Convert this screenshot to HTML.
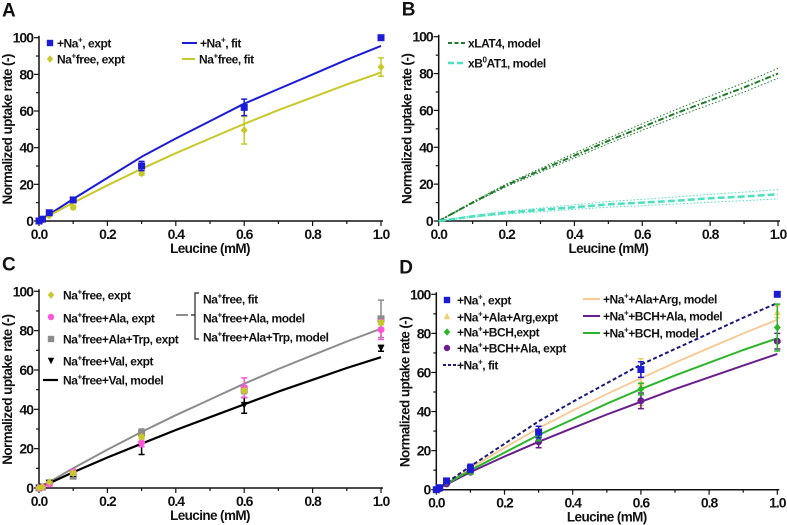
<!DOCTYPE html>
<html><head><meta charset="utf-8">
<style>
html,body{margin:0;padding:0;background:#fff;}
svg{display:block;}
text{font-family:"Liberation Sans",sans-serif;font-weight:bold;fill:#111;}
.tick{font-size:14px;letter-spacing:-1px;}
.leg{font-size:12px;letter-spacing:-0.45px;}
.title{font-size:13.5px;letter-spacing:-0.6px;}
.plet{font-size:19px;}
</style></head>
<body>
<svg id="fig" width="787" height="525" viewBox="0 0 787 525" xmlns="http://www.w3.org/2000/svg"></svg>
<script>
// ---- data ----
const fitX = [0,0.1,0.2,0.3,0.4,0.5,0.6,0.7,0.8,0.9,1.0];
const xTicks = ["0.0","0.2","0.4","0.6","0.8","1.0"];
const yTicks = ["0","20","40","60","80","100"];
// Panel A
const aBlueFit = [0,12,23.5,35,45,54.5,64,72,80,88,95.5];
const aYellowFit = [0,10,19.5,28.5,37,45,53,60.5,67.5,74.5,81];
const exptX = [0,0.01,0.03,0.1,0.3,0.6,1.0];
const aBlueY = [0,1,4.5,11.5,30,62,100];
const aBlueErr = [0,0,0,1,2.5,4.5,0];
const aYellowY = [0,0.5,3,7.5,26,49.5,84];
const aYellowErr = [0,0,0,1,1,7.5,5];
// Panel B
const bLat4 = [0,10,19.5,27.5,35.5,43.5,51,58.5,65.5,72.5,80];
const bLat4Hi = [0,10.4,20.2,28.5,36.8,45,52.8,60.5,67.8,75,82.8];
const bLat4Lo = [0,9.6,18.8,26.5,34.2,42,49.2,56.5,63.2,70,77.5];
const bB0at1 = [0,2.5,4.5,6,7.5,9,10,11,12.3,13.3,14.5];
const bB0at1Hi = [0,3,5.3,7,8.8,10.5,11.8,13,14.5,15.7,17];
const bB0at1Lo = [0,2,3.8,5,6.3,7.5,8.3,9.2,10.2,11,12];
// Panel C
const cGrayFit = [0,10,19.5,28.5,37,45,53,60.5,67.5,74.5,81];
const cBlackFit = [0,8,15.5,22.5,29.5,36,42.5,49,55,61,66.5];
const cYellowY = [0,0.5,3,7.5,26,49.5,84];
const cYellowErr = [0,0,0,1,1,1,1];
const cPinkY = [0,0.5,2,8,23,51,80.5];
const cPinkErr = [0,0,0,1.5,2,5,5];
const cGrayY = [0,0.5,2.5,6,28,50,86];
const cGrayErr = [0,0,0,1,2,2,9.5];
const cBlackY = [0,0.5,2.5,7,22,42,71];
const cBlackErr = [0,0,0,1,5,4,1.5];
// Panel D
const dBlueFit = [0,12,23.5,35,45,54.5,64,72,80,88,95.5];
const dOrangeFit = [0,11,21.5,31.5,40.5,49,57,65,72.5,80,87];
const dGreenFit = [0,10,19,28,36,44,51.5,58.5,65,71.5,77.5];
const dPurpleFit = [0,9,17,24.5,31.5,38.5,45,51.5,57.5,63.5,69.5];
const dBlueY = [0,1,4.5,11,29.5,61.5,100];
const dBlueErr = [0,0.5,0.5,2,3,4,0];
const dOrangeY = [0,1,4,11,29,55,91];
const dOrangeErr = [0,0,0,1,2,12,3];
const dGreenY = [0,1,4,10,27,51.5,83];
const dGreenErr = [0,0,0,2,2,3,12];
const dPurpleY = [0,0.5,3,9,24.5,45.5,76];
const dPurpleErr = [0,0,0,1,3,4,4];

const NS="http://www.w3.org/2000/svg";
const svg=document.getElementById('fig');
function mk(tag,attrs,parent){const e=document.createElementNS(NS,tag);for(const k in attrs)e.setAttribute(k,attrs[k]);(parent||svg).appendChild(e);return e;}
function txt(s,x,y,cls,anchor,parent){const t=mk('text',{x:x,y:y,class:cls,'text-anchor':anchor||'start'},parent);t.innerHTML=s;return t;}

function panel(name,letter,x0,x1,y0,y100){
  const g=mk('g',{});
  
  
  const sx=v=>x0+(x1-x0)*v, sy=v=>y0-(y0-y100)*v/100;
  const ax=mk('g',{},g);
  
  
  mk('line',{x1:x0,y1:y100-2,x2:x0,y2:y0+1,stroke:'#111','stroke-width':1.5},ax);
  mk('line',{x1:x0,y1:y0,x2:x1+2,y2:y0,stroke:'#111','stroke-width':1.5},ax);
  for(let i=0;i<=10;i++){const X=sx(i/10);mk('line',{x1:X,y1:y0,x2:X,y2:y0+(i%2?3:5),stroke:'#111','stroke-width':1.2},ax);}
  for(let i=0;i<=10;i++){const Y=sy(i*10);mk('line',{x1:x0,y1:Y,x2:x0-(i%2?3:5),y2:Y,stroke:'#111','stroke-width':1.2},ax);}
  xTicks.forEach((s,i)=>{const t=txt(s,sx(i*0.2),y0+18,'tick','middle',ax);});
  yTicks.forEach((s,i)=>{const t=txt(s,x0-6,sy(i*20)+5,'tick','end',ax);});
  const xt=txt('Leucine (mM)',(x0+x1)/2,y0+32,'title','middle',ax);
  
  
  const yc=(y0+y100)/2;
  const yt=txt('Normalized uptake rate (-)',0,0,'title','middle',ax);
  yt.setAttribute('transform','translate('+(x0-27)+','+yc+') rotate(-90)');
  
  
  const pl=txt(letter,x0-37,y100-21,'plet','start',g);
  
  
  return {g,sx,sy};
}
function line(p,xs,ys,color,w,dash,name){
  const d=xs.map((x,i)=>(i?'L':'M')+p.sx(x).toFixed(1)+','+p.sy(ys[i]).toFixed(1)).join('');
  const e=mk('path',{d:d,fill:'none',stroke:color,'stroke-width':w,'stroke-linejoin':'round'},p.g);
  if(dash)e.setAttribute('stroke-dasharray',dash);
  
  
}
function marker(parent,shape,X,Y,color,s){
  s=s||3.5;
  if(shape==='sq')return mk('rect',{x:X-s,y:Y-s,width:2*s,height:2*s,fill:color},parent);
  if(shape==='dia')return mk('path',{d:`M${X},${Y-s-0.5}L${X+s},${Y}L${X},${Y+s+0.5}L${X-s},${Y}Z`,fill:color},parent);
  if(shape==='circ')return mk('circle',{cx:X,cy:Y,r:s,fill:color},parent);
  if(shape==='tri')return mk('path',{d:`M${X-s},${Y-s}L${X+s},${Y-s}L${X},${Y+s}Z`,fill:color},parent);
  if(shape==='utri')return mk('path',{d:`M${X-s},${Y+s}L${X+s},${Y+s}L${X},${Y-s}Z`,fill:color},parent);
}
function points(p,xs,ys,errs,color,shape,name){
  const g=mk('g',{},p.g);
  
  
  xs.forEach((x,i)=>{
    const X=p.sx(x),Y=p.sy(ys[i]);
    if(errs[i]>0){const a=p.sy(ys[i]+errs[i]),b=p.sy(ys[i]-errs[i]);
      mk('path',{d:`M${X},${a}L${X},${b}M${X-3},${a}L${X+3},${a}M${X-3},${b}L${X+3},${b}`,stroke:color,'stroke-width':1.5,fill:'none'},g);}
    const m=marker(g,shape,X,Y,color);
    
    
  });
}
function legSym(parent,shape,X,Y,color){const m=marker(parent,shape,X,Y,color,3.2);}
function legLine(parent,x1,x2,Y,color,w,dash){const l=mk('line',{x1:x1,y1:Y,x2:x2,y2:Y,stroke:color,'stroke-width':w},parent);if(dash)l.setAttribute('stroke-dasharray',dash);}
function legText(parent,s,X,Y){const t=txt(s,X,Y+4.5,'leg','start',parent);}
function legend(p){const g=mk('g',{},p.g);return g;}

const BLUE='#1c1cd6', YEL='#c8c82a', GRN_D='#1f7a2a', TEAL='#4de0c0', PINK='#ff55dd', GRAY='#8c8c8c', ORG='#f8c890', GRN='#2bb52b', PUR='#6a1e8c', NAVY='#1a1a7a';

// Panel A
let p=panel('panel-a','A',39,381,221,37.7);
line(p,fitX,aBlueFit,BLUE,2,null,'na-fit-line');
line(p,fitX,aYellowFit,YEL,2,null,'na-free-fit-line');
points(p,exptX,aYellowY,aYellowErr,YEL,'dia','na-free-expt-points');
points(p,exptX,aBlueY,aBlueErr,BLUE,'sq','na-expt-points');
let L=legend(p);
legSym(L,'sq',50,43,BLUE);legText(L,'+Na<tspan font-size="8" dy="-5">+</tspan><tspan dy="5">, expt</tspan>',57,43);
legSym(L,'dia',50,59,YEL);legText(L,'Na<tspan font-size="8" dy="-5">+</tspan><tspan dy="5">free, expt</tspan>',57,59);
legLine(L,182,197,43,BLUE,2);legText(L,'+Na<tspan font-size="8" dy="-5">+</tspan><tspan dy="5">, fit</tspan>',200,43);
legLine(L,182,195,59,YEL,2);legText(L,'Na<tspan font-size="8" dy="-5">+</tspan><tspan dy="5">free, fit</tspan>',199,59);

// Panel B
p=panel('panel-b','B',438.7,778,221,36.7);
line(p,fitX,bLat4Hi,GRN_D,1,'1.5,2','xlat4-upper-bound');
line(p,fitX,bLat4Lo,GRN_D,1,'1.5,2','xlat4-lower-bound');
line(p,fitX,bLat4,GRN_D,2,'6,2,1.5,2','xlat4-model-line');
line(p,fitX,bB0at1Hi,TEAL,1,'1.5,2','xb0at1-upper-bound');
line(p,fitX,bB0at1Lo,TEAL,1,'1.5,2','xb0at1-lower-bound');
line(p,fitX,bB0at1,TEAL,2.5,'7,3','xb0at1-model-line');
L=legend(p);
legLine(L,448,465,43,GRN_D,2,'4,2.5');legText(L,'xLAT4, model',468,43);
legLine(L,448,465,63,TEAL,2.5,'6,3');legText(L,'xB<tspan font-size="8" dy="-5">0</tspan><tspan dy="5">AT1, model</tspan>',468,63);

// Panel C
p=panel('panel-c','C',39,381,488,291.3);
line(p,fitX,cGrayFit,GRAY,2,null,'na-free-fit-line');
line(p,fitX,cBlackFit,'#000',2.2,null,'val-model-line');
points(p,exptX,cGrayY,cGrayErr,GRAY,'sq','ala-trp-expt-points');
points(p,exptX,cBlackY,cBlackErr,'#000','tri','val-expt-points');
points(p,exptX,cPinkY,cPinkErr,PINK,'circ','ala-expt-points');
points(p,exptX,cYellowY,cYellowErr,YEL,'dia','na-free-expt-points');
L=legend(p);
const sup='Na<tspan font-size="8" dy="-5">+</tspan><tspan dy="5">';
legSym(L,'dia',51,295,YEL);legText(L,sup+'free, expt</tspan>',63,295);
legSym(L,'circ',51,317,PINK);legText(L,sup+'free+Ala, expt</tspan>',63,318);
legSym(L,'sq',51,339,GRAY);legText(L,sup+'free+Ala+Trp, expt</tspan>',63,339);
legSym(L,'tri',51,361,'#000');legText(L,sup+'free+Val, expt</tspan>',63,361);
legLine(L,43,58,380,'#000',2.2);legText(L,sup+'free+Val, model</tspan>',63,380);
legLine(L,176,188,315,GRAY,2);
mk('path',{d:'M199,293L195,293L195,339L199,339M195,315L191,315',fill:'none',stroke:'#222','stroke-width':1.2},L);
legText(L,sup+'free, fit</tspan>',203,299);
legText(L,sup+'free+Ala, model</tspan>',203,318);
legText(L,sup+'free+Ala+Trp, model</tspan>',203,337);

// Panel D
p=panel('panel-d','D',436.3,777.3,489.7,294.3);
line(p,fitX,dOrangeFit,ORG,1.8,null,'ala-arg-model-line');
line(p,fitX,dPurpleFit,PUR,2,null,'bch-ala-model-line');
line(p,fitX,dGreenFit,GRN,2,null,'bch-model-line');
line(p,fitX,dBlueFit,NAVY,2,'4,2.5','na-fit-line');
points(p,exptX,dOrangeY,dOrangeErr,'#f0d070','utri','ala-arg-expt-points');
points(p,exptX,dPurpleY,dPurpleErr,PUR,'circ','bch-ala-expt-points');
points(p,exptX,dGreenY,dGreenErr,GRN,'dia','bch-expt-points');
points(p,exptX,dBlueY,dBlueErr,BLUE,'sq','na-expt-points');
L=legend(p);
const nap='+Na<tspan font-size="8" dy="-5">+</tspan><tspan dy="5">';
legSym(L,'sq',447,300,BLUE);legText(L,nap+', expt</tspan>',457,300);
legSym(L,'utri',447,316,'#f0d070');legText(L,nap+'+Ala+Arg,expt</tspan>',457,317);
legSym(L,'dia',447,332,GRN);legText(L,nap+'+BCH,expt</tspan>',457,332);
legSym(L,'circ',447,348,PUR);legText(L,nap+'+BCH+Ala, expt</tspan>',457,348);
legLine(L,443,458,365,NAVY,2,'3,2');legText(L,nap+', fit</tspan>',457,365);
legLine(L,583,600,299,ORG,2);legText(L,nap+'+Ala+Arg, model</tspan>',603,299);
legLine(L,583,600,316,PUR,2);legText(L,nap+'+BCH+Ala, model</tspan>',603,316);
legLine(L,583,600,333,GRN,2);legText(L,nap+'+BCH, model</tspan>',603,333);
</script>
</body></html>
